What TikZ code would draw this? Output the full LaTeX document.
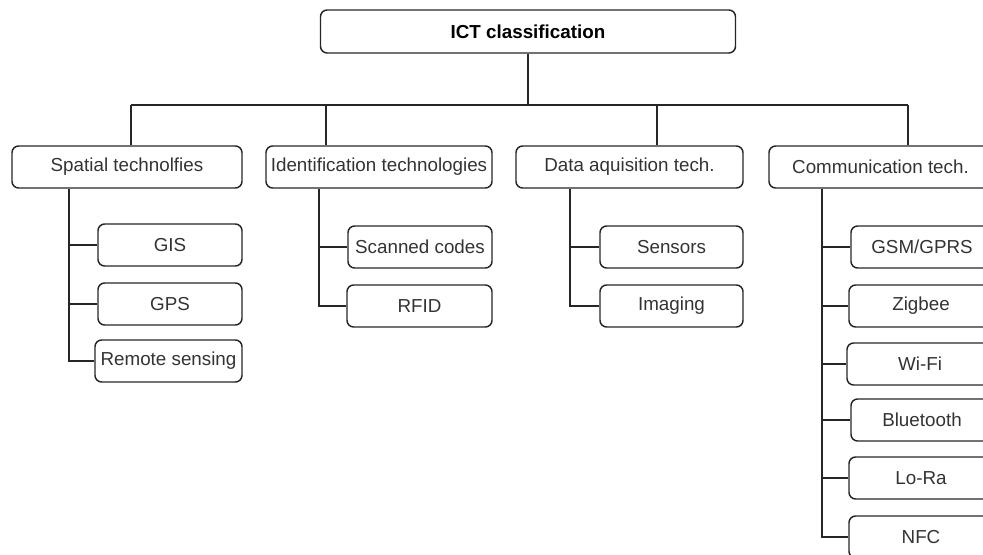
\documentclass[tikz,border=0pt]{standalone}
\usepackage{fontspec}
\setmainfont{Liberation Sans}
\begin{document}
\begin{tikzpicture}[x=0.75pt,y=-0.75pt,
  box/.style={draw=black!85, line width=1.1pt, rounded corners=5pt, inner sep=0pt,
    minimum height=31.5pt, font=\fontsize{14.1pt}{16pt}\selectfont, text=black!80},
  link/.style={draw=black!85, line width=1.2pt}]
\useasboundingbox (0,0) rectangle (983,555);
\clip (0,0) rectangle (983,555);
% top
\node[box, minimum width=311.25pt, minimum height=32.25pt, font=\fontsize{14.1pt}{16pt}\selectfont\bfseries, text=black] (top) at (528,31.5) {ICT classification};
% level 1
\node[box, minimum width=172.5pt] (sp) at (127,167) {Spatial technolfies};
\node[box, minimum width=169.5pt] (id) at (379,167) {Identification technologies};
\node[box, minimum width=170.25pt] (da) at (629.5,167) {Data aquisition tech.};
\node[box, minimum width=167.25pt] (co) at (880.5,167) {Communication tech.};
% children
\node[box, minimum width=108pt] (gis) at (170,245) {GIS};
\node[box, minimum width=108pt] (gps) at (170,304) {GPS};
\node[box, minimum width=110.25pt] (rs) at (168.5,361) {Remote sensing};
\node[box, minimum width=108pt] (sc) at (420,247) {Scanned codes};
\node[box, minimum width=108.75pt] (rf) at (419.5,306) {RFID};
\node[box, minimum width=107.25pt] (se) at (671.5,247) {Sensors};
\node[box, minimum width=107.25pt] (im) at (671.5,306) {Imaging};
\node[box, minimum width=106.5pt] (gsm) at (922,247) {GSM/GPRS};
\node[box, minimum width=108pt] (zi) at (921,306) {Zigbee};
\node[box, minimum width=109.5pt] (wf) at (920,364) {Wi-Fi};
\node[box, minimum width=106.5pt] (bt) at (922,420) {Bluetooth};
\node[box, minimum width=108pt] (lr) at (921,478) {Lo-Ra};
\node[box, minimum width=108pt] (nfc) at (921,537) {NFC};
% bus coordinates
\coordinate (b1) at (131,105);
\coordinate (b2) at (326,105);
\coordinate (b3) at (657,105);
\coordinate (b4) at (908,105);
\coordinate (t1) at (69,0);
\coordinate (t2) at (319,0);
\coordinate (t3) at (570,0);
\coordinate (t4) at (822,0);
% connectors
\draw[link] (top.south) -- (top.south |- b1);
\draw[link] (b1) -- (b4);
\draw[link] (b1) -- (b1 |- sp.north);
\draw[link] (b2) -- (b2 |- id.north);
\draw[link] (b3) -- (b3 |- da.north);
\draw[link] (b4) -- (b4 |- co.north);
\draw[link] (sp.south -| t1) |- (rs.west);
\draw[link] (gis.west -| t1) -- (gis.west);
\draw[link] (gps.west -| t1) -- (gps.west);
\draw[link] (id.south -| t2) |- (rf.west);
\draw[link] (sc.west -| t2) -- (sc.west);
\draw[link] (da.south -| t3) |- (im.west);
\draw[link] (se.west -| t3) -- (se.west);
\draw[link] (co.south -| t4) |- (nfc.west);
\draw[link] (gsm.west -| t4) -- (gsm.west);
\draw[link] (zi.west -| t4) -- (zi.west);
\draw[link] (wf.west -| t4) -- (wf.west);
\draw[link] (bt.west -| t4) -- (bt.west);
\draw[link] (lr.west -| t4) -- (lr.west);
\end{tikzpicture}
\end{document}
